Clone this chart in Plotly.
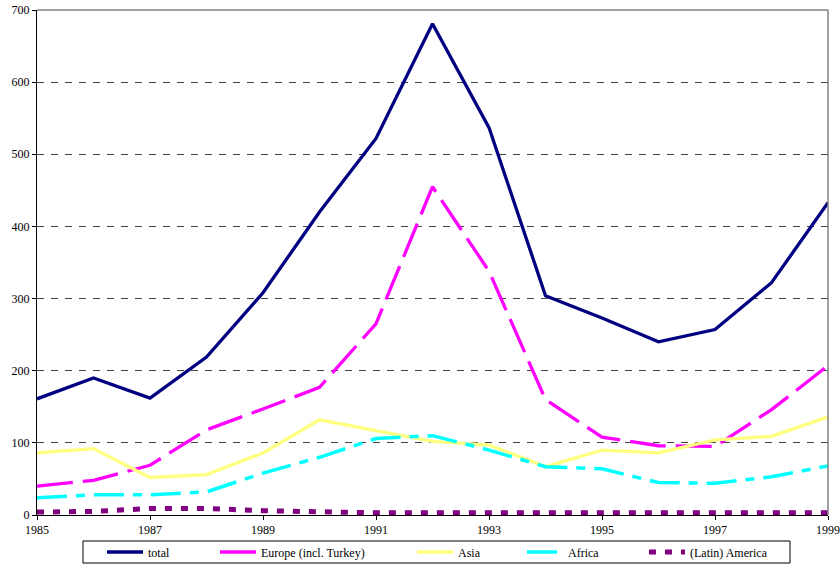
import plotly.graph_objects as go

years = list(range(1985, 2000))
total = [161, 190, 162, 219, 308, 420, 522, 681, 537, 304, 273, 240, 257, 322, 433]
europe = [40, 48, 69, 118, 147, 177, 265, 455, 338, 160, 108, 96, 95, 146, 207]
asia = [86, 92, 52, 56, 86, 132, 117, 102, 97, 67, 90, 86, 104, 109, 136]
africa = [24, 28, 28, 32, 58, 80, 106, 110, 90, 67, 64, 45, 44, 53, 68]
america = [4, 5, 9, 9, 6, 4, 3, 3, 3, 3, 3, 3, 4, 3, 3]

series = [
    ("total", total, "#000080", "solid", 3.3),
    ("Europe (incl. Turkey)", europe, "#FF00FF", "36px,10px", 3.3),
    ("Asia", asia, "#FFFF80", "solid", 3.3),
    ("Africa", africa, "#00FFFF", "30px,9px,9px,9px", 3.5),
    ("(Latin) America", america, "#800080", "7px,9px", 5),
]

# legend symbol start positions (pixels) in the reference
legend_px = [107, 220, 417, 527, 649]

W, H = 840, 565
L, R, T, B = 37, 12, 10, 50
pw, ph = W - L - R, H - T - B

def px_x(p):
    return (p - L) / pw

def px_y(p):
    return (H - B - p) / ph

font = dict(family="Times New Roman, Liberation Serif, DejaVu Serif, serif", size=12, color="black")

fig = go.Figure()
layout_legends = {}
for i, (name, vals, color, dash, w) in enumerate(series):
    key = "legend" if i == 0 else f"legend{i+1}"
    fig.add_trace(go.Scatter(x=years, y=vals, mode="lines", name=name,
                             legend=key,
                             line=dict(color=color, dash=dash, width=w)))
    layout_legends[key] = dict(x=px_x(legend_px[i] - 5), y=px_y(552),
                               xanchor="left", yanchor="middle",
                               bgcolor="rgba(0,0,0,0)", borderwidth=0,
                               font=font, itemwidth=36)

fig.update_layout(
    width=W, height=H,
    margin=dict(l=L, r=R, t=T, b=B, autoexpand=False),
    paper_bgcolor="white", plot_bgcolor="white",
    font=font,
    showlegend=True,
    xaxis=dict(range=[1985, 1999], tick0=1985, dtick=2, showgrid=False,
               showline=True, linecolor="black", linewidth=1,
               ticks="outside", ticklen=4, tickcolor="black", zeroline=False,
               tickfont=font, automargin=False),
    yaxis=dict(range=[0, 700], dtick=100, showgrid=True, gridcolor="#444",
               griddash="7px,7px", gridwidth=1,
               showline=True, linecolor="black", linewidth=1,
               ticks="outside", ticklen=4, tickcolor="black", zeroline=False,
               tickfont=font, automargin=False),
    shapes=[
        dict(type="line", xref="paper", yref="paper", x0=0, x1=1, y0=1, y1=1,
             line=dict(color="#808080", width=1.5)),
        dict(type="line", xref="paper", yref="paper", x0=1, x1=1, y0=0, y1=1,
             line=dict(color="#808080", width=1.5)),
        dict(type="rect", xref="paper", yref="paper",
             x0=px_x(83), x1=px_x(790), y0=px_y(563), y1=px_y(541),
             line=dict(color="black", width=1), layer="below"),
    ],
    **layout_legends,
)

fig.write_html("out.html",
               config={"displayModeBar": False},
               post_script="document.body.style.margin='0';document.body.style.overflow='hidden';")
